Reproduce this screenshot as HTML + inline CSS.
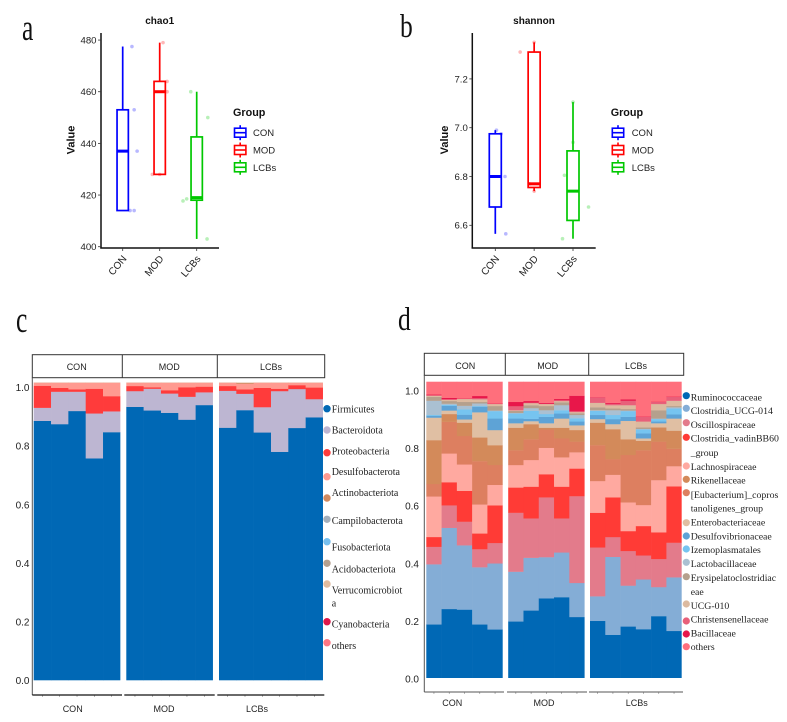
<!DOCTYPE html>
<html lang="en">
<head>
<meta charset="utf-8">
<title>Alpha diversity and taxonomic composition</title>
<style>
html,body{margin:0;padding:0;background:#fff;}
#figure{display:block;position:absolute;left:0;top:0;filter:blur(.35px);}
text{font-family:"Liberation Sans",sans-serif;}
.letter{font-family:"Liberation Serif",serif;font-size:30px;fill:#111;}
.title{font-size:10px;font-weight:bold;fill:#111;text-anchor:middle;}
.ylab{font-size:11px;font-weight:bold;fill:#111;text-anchor:middle;}
.gtitle{font-size:10.8px;font-weight:bold;fill:#111;}
.gtext{font-size:9.5px;fill:#222;}
.strip{font-size:9px;fill:#222;text-anchor:middle;}
.leg{font-family:"Liberation Serif",serif;font-size:10px;fill:#222;}
.legd{font-family:"Liberation Serif",serif;font-size:9.8px;fill:#222;}
</style>
</head>
<body>
<svg id="figure" width="787" height="722" viewBox="0 0 787 722" xmlns="http://www.w3.org/2000/svg">
<rect x="0" y="0" width="787" height="722" fill="#fff"/>

<text class="letter" transform="translate(22,40) scale(.85,1.25)">a</text>
<text class="letter" transform="translate(400,37) scale(.85,1.1)">b</text>
<text class="letter" transform="translate(16,332) scale(.85,1.25)">c</text>
<text class="letter" transform="translate(398,330) scale(.85,1.1)">d</text>

<g id="panel-a">
<text class="title" x="159.7" y="24">chao1</text>
<text class="ylab" transform="translate(74.5,140) rotate(-90)">Value</text>
<text class="gtitle" x="233" y="116">Group</text>
<text class="gtext" x="253" y="136">CON</text>
<text class="gtext" x="253" y="153.5">MOD</text>
<text class="gtext" x="253" y="171">LCBs</text>
</g>

<g id="panel-b">
<text class="title" x="534" y="24">shannon</text>
<text class="ylab" transform="translate(448,140) rotate(-90)">Value</text>
<text class="gtitle" x="610.7" y="116">Group</text>
<text class="gtext" x="631.7" y="136">CON</text>
<text class="gtext" x="631.7" y="153.5">MOD</text>
<text class="gtext" x="631.7" y="171">LCBs</text>
</g>

<g id="panel-c">
<text class="strip" x="76.7" y="370">CON</text>
<text class="strip" x="169.3" y="370">MOD</text>
<text class="strip" x="271" y="370">LCBs</text>
<text class="strip" x="72.7" y="712">CON</text>
<text class="strip" x="164" y="712">MOD</text>
<text class="strip" x="257" y="712">LCBs</text>
</g>

<g id="panel-d">
<text class="strip" x="465.3" y="369">CON</text>
<text class="strip" x="547.7" y="369">MOD</text>
<text class="strip" x="636" y="369">LCBs</text>
<text class="strip" x="452.3" y="706">CON</text>
<text class="strip" x="544" y="706">MOD</text>
<text class="strip" x="636.7" y="706">LCBs</text>
</g>

<g id="legend-c">
<circle cx="327" cy="408.7" r="3.7" fill="#0068b5"/>
<text class="leg" x="331.7" y="412.3">Firmicutes</text>
<circle cx="327" cy="430" r="3.7" fill="#bdb6d2"/>
<text class="leg" x="331.7" y="433.3">Bacteroidota</text>
<circle cx="327" cy="452.7" r="3.7" fill="#ff3b3b"/>
<text class="leg" x="331.7" y="454.3">Proteobacteria</text>
<circle cx="327" cy="476.7" r="3.7" fill="#ff9a90"/>
<text class="leg" x="331.7" y="475">Desulfobacterota</text>
<circle cx="327" cy="498" r="3.7" fill="#d08a60"/>
<text class="leg" x="331.7" y="496">Actinobacteriota</text>
<circle cx="327" cy="519.3" r="3.7" fill="#a5b0bc"/>
<text class="leg" x="331.7" y="524">Campilobacterota</text>
<circle cx="327" cy="541.7" r="3.7" fill="#78c0ee"/>
<text class="leg" x="331.7" y="550.6">Fusobacteriota</text>
<circle cx="327" cy="563.3" r="3.7" fill="#b5a190"/>
<text class="leg" x="331.7" y="572.3">Acidobacteriota</text>
<circle cx="327" cy="584" r="3.7" fill="#e0bca0"/>
<text class="leg" x="331.7" y="593.3"><tspan x="331.7">Verrucomicrobiot</tspan><tspan x="331.7" dy="13">a</tspan></text>
<circle cx="327" cy="621.7" r="3.7" fill="#e0184a"/>
<text class="leg" x="331.7" y="627.3">Cyanobacteria</text>
<circle cx="327" cy="642.7" r="3.7" fill="#ff7784"/>
<text class="leg" x="331.7" y="649">others</text>
</g>

<g id="legend-d">
<circle cx="686.3" cy="395.7" r="3.6" fill="#0068b5"/>
<text class="legd" x="690.7" y="400.6">Ruminococcaceae</text>
<circle cx="686.3" cy="408.3" r="3.6" fill="#84add6"/>
<text class="legd" x="690.7" y="414">Clostridia_UCG-014</text>
<circle cx="686.3" cy="422.7" r="3.6" fill="#e37b8b"/>
<text class="legd" x="690.7" y="428">Oscillospiraceae</text>
<circle cx="686.3" cy="437.3" r="3.6" fill="#ff3b36"/>
<text class="legd" x="690.7" y="441.6"><tspan x="690.7">Clostridia_vadinBB60</tspan><tspan x="690.7" dy="14.4">_group</tspan></text>
<circle cx="686.3" cy="466" r="3.6" fill="#ffa9a0"/>
<text class="legd" x="690.7" y="470">Lachnospiraceae</text>
<circle cx="686.3" cy="479.3" r="3.6" fill="#d38a5a"/>
<text class="legd" x="690.7" y="483.3">Rikenellaceae</text>
<circle cx="686.3" cy="492.7" r="3.6" fill="#dd7f60"/>
<text class="legd" x="690.7" y="498"><tspan x="690.7">[Eubacterium]_copros</tspan><tspan x="690.7" dy="13.6">tanoligenes_group</tspan></text>
<circle cx="686.3" cy="522.7" r="3.6" fill="#e0bfa3"/>
<text class="legd" x="690.7" y="525.6">Enterobacteriaceae</text>
<circle cx="686.3" cy="536" r="3.6" fill="#5ea3d6"/>
<text class="legd" x="690.7" y="539.3">Desulfovibrionaceae</text>
<circle cx="686.3" cy="549" r="3.6" fill="#76c4f0"/>
<text class="legd" x="690.7" y="553">Izemoplasmatales</text>
<circle cx="686.3" cy="562.3" r="3.6" fill="#aac0d2"/>
<text class="legd" x="690.7" y="567">Lactobacillaceae</text>
<circle cx="686.3" cy="576.7" r="3.6" fill="#b5a08d"/>
<text class="legd" x="690.7" y="581"><tspan x="690.7">Erysipelatoclostridiac</tspan><tspan x="690.7" dy="14">eae</tspan></text>
<circle cx="686.3" cy="604" r="3.6" fill="#dcbaa0"/>
<text class="legd" x="690.7" y="609">UCG-010</text>
<circle cx="686.3" cy="621" r="3.6" fill="#e8607a"/>
<text class="legd" x="690.7" y="622.6">Christensenellaceae</text>
<circle cx="686.3" cy="634" r="3.6" fill="#e8174a"/>
<text class="legd" x="690.7" y="636.6">Bacillaceae</text>
<circle cx="686.3" cy="646.7" r="3.6" fill="#ff6f7c"/>
<text class="legd" x="690.7" y="650">others</text>
</g>
</svg>

<script>
// ---------- Boxplot data ----------
const groupNames = ['CON', 'MOD', 'LCBs'];
const groupColors = ['#0000ff', '#ff0000', '#00c800'];

const chaoTicks = [400, 420, 440, 460, 480];
const chaoHigh = [477.5, 479, 460];
const chaoQ3 = [453, 464, 442.5];
const chaoMedian = [437, 460, 419];
const chaoQ1 = [414, 428, 418];
const chaoLow = [414, 428, 403];
const chaoPointValues = [
  [477.5, 453, 437, 414, 414],
  [479, 464, 460, 428, 428],
  [460, 450, 418.5, 417.7, 403]
];
const chaoPointJitter = [
  [0.25, 0.31, 0.39, 0.2, 0.31],
  [0.09, 0.2, 0.2, -0.2, 0],
  [-0.16, 0.3, -0.27, -0.37, 0.28]
];

const shannonTicks = [6.6, 6.8, 7.0, 7.2];
const shannonHigh = [6.99, 7.35, 7.105];
const shannonQ3 = [6.975, 7.31, 6.905];
const shannonMedian = [6.8, 6.77, 6.74];
const shannonQ1 = [6.675, 6.755, 6.62];
const shannonLow = [6.565, 6.74, 6.545];
const shannonPointValues = [
  [6.99, 6.975, 6.8, 6.565],
  [7.35, 7.31, 6.77, 6.74],
  [7.105, 6.94, 6.805, 6.675, 6.545]
];
const shannonPointJitter = [
  [0.03, 0.15, 0.25, 0.27],
  [0, -0.36, -0.12, 0],
  [0, 0, -0.22, 0.4, -0.27]
];

// ---------- Stacked bar data: cumulative percent at the top of each taxon, 16 samples ----------
const facetSampleCounts = [5, 5, 6];
const stackTicks = [0, 0.2, 0.4, 0.6, 0.8, 1];

const firmicutesTop = [87.2,86.1,90.5,74.6,83.4, 91.9,90.7,89.9,87.6,92.5, 84.9,90.8,83.3,76.8,84.8,88.4];
const bacteroidotaTop = [91.6,97.0,97.0,89.7,90.4, 97.2,98.0,96.4,95.3,96.8, 97.3,96.3,91.8,97.2,97.9,94.5];
const proteobacteriaTop = [99.0,98.3,97.8,98.0,95.5, 98.9,98.5,97.5,98.5,98.7, 98.9,97.8,98.3,98.0,99.2,98.4];
const desulfobacterotaTop = [100,100,100,100,100, 100,100,100,100,100, 100,99.7,100,100,100,100];
const actinobacteriotaTop = [100,100,100,100,100, 100,100,100,100,100, 100,100,100,100,100,100];

const ruminococcaceaeTop = [18.1,23.3,23.1,18.1,16.4, 19.1,22.8,26.9,27.3,20.6, 19.3,14.6,17.4,16.5,20.9,15.9];
const clostridiaUcgTop = [38.4,50.7,44.8,37.4,38.7, 35.9,40.6,40.8,42.4,32.1, 27.6,40.9,31.2,33.3,30.7,34.0];
const oscillospiraceaeTop = [44.3,58.3,52.8,43.5,45.6, 55.8,53.9,61.0,53.9,61.4, 44.1,47.6,42.9,41.4,40.2,45.7];
const vadinTop = [47.6,66.1,63.2,48.8,58.3, 64.3,64.6,68.8,64.6,70.7, 55.8,61.0,49.6,51.3,49.2,64.7];
const lachnospiraceaeTop = [61.3,75.8,72.1,58.6,65.2, 71.9,73.6,77.7,74.5,76.2, 66.5,68.6,59.3,58.4,66.8,71.5];
const eubacteriumTop = [65.5,86.5,81.7,73.2,71.9, 76.9,80.6,83.9,80.9,79.8, 78.6,73.9,75.3,76.9,79.8,77.4];
const rikenellaceaeTop = [80.3,89.1,86.2,81.2,78.6, 84.5,85.7,84.5,84.5,83.7, 86.2,84.0,80.6,80.1,84.6,83.5];
const enterobacteriaceaeTop = [87.9,90.3,87.3,89.7,83.7, 86.0,86.7,86.0,87.6,85.3, 87.4,85.7,86.8,80.9,86.0,87.6];
const desulfovibrionaceaeTop = [88.5,91.9,88.9,91.6,87.6, 87.6,87.5,88.2,89.3,86.6, 88.8,87.4,88.2,82.6,86.6,89.0];
const izemoplasmatalesTop = [88.8,92.2,90.7,91.8,90.1, 89.3,90.2,89.1,90.4,87.7, 90.2,88.8,90.1,83.9,87.4,91.0];
const lactobacillaceaeTop = [93.6,92.6,91.9,92.7,90.3, 89.5,91.1,90.4,92.1,88.8, 90.4,90.4,90.3,84.1,87.6,91.4];
const erysipelatoTop = [94.9,93.5,93.2,93.2,91.8, 90.2,92.1,91.8,93.1,89.4, 91.4,91.0,90.8,84.6,90.4,91.8];
const ucg010Top = [95.3,93.9,94.2,94.1,92.5, 90.4,92.8,92.5,93.5,89.8, 92.9,92.1,92.1,86.6,92.5,93.6];
const christensenellaceaeTop = [95.5,94.2,94.3,94.5,92.6, 91.8,93.0,92.6,93.8,90.1, 94.7,92.6,93.6,88.2,93.2,94.9];
const bacillaceaeTop = [95.7,94.6,94.4,95.2,92.7, 93.2,93.5,92.9,94.2,95.3, 94.8,92.9,94.1,88.3,93.3,95.0];
const familyOthersTop = [100,100,100,100,100, 100,100,100,100,100, 100,100,100,100,100,100];

const SVGNS = 'http://www.w3.org/2000/svg';
function mk(parent, tag, attrs, txt) {
  const el = document.createElementNS(SVGNS, tag);
  for (const k in attrs) el.setAttribute(k, attrs[k]);
  if (txt !== undefined) el.textContent = txt;
  parent.appendChild(el);
  return el;
}
function line(parent, x1, y1, x2, y2, stroke, w) {
  return mk(parent, 'line', {x1: x1, y1: y1, x2: x2, y2: y2, stroke: stroke, 'stroke-width': w});
}

function drawBoxplot(root, prefix, c) {
  const sx = i => c.catX0 + i * c.catStep;
  const sy = v => c.yRef - (v - c.vRef) * c.yUnit;

  const yAxis = line(root, c.axisX, 33, c.axisX, 248.5, '#111', 1.5);
  
  
  const xAxis = line(root, c.axisX - 0.7, 248, c.axisEnd, 248, '#111', 1.5);
  
  

  c.ticks.forEach(function (t) {
    const tick = line(root, c.axisX - 3, sy(t), c.axisX, sy(t), '#333', 0.8);
    
    
    const label = mk(root, 'text', {x: c.axisX - 4.5, y: sy(t) + 3.4, 'text-anchor': 'end', 'font-size': 9.6, fill: '#222'}, c.fmt(t));
    
    
  });

  groupNames.forEach(function (name, i) {
    const x = sx(i);
    const color = groupColors[i];
    const hw = c.boxW / 2;

    const xTick = line(root, x, 248, x, 251, '#333', 0.8);
    
    
    const xLabel = mk(root, 'text', {transform: 'translate(' + (x + 4.5) + ',259) rotate(-50)', 'text-anchor': 'end', 'font-size': 10, fill: '#222'}, name);
    
    

    c.pointValues[i].forEach(function (v, j) {
      const dot = mk(root, 'circle', {cx: x + c.pointJitter[i][j] * c.catStep, cy: sy(v), r: 1.8, fill: color, 'fill-opacity': 0.28});
      
      
    });

    const upper = line(root, x, sy(c.high[i]), x, sy(c.q3[i]), color, 1.7);
    
    
    const lower = line(root, x, sy(c.q1[i]), x, sy(c.low[i]), color, 1.7);
    
    
    const box = mk(root, 'rect', {x: x - hw, y: sy(c.q3[i]), width: c.boxW, height: sy(c.q1[i]) - sy(c.q3[i]), fill: 'none', stroke: color, 'stroke-width': 1.7});
    
    
    const med = line(root, x - hw, sy(c.median[i]), x + hw, sy(c.median[i]), color, 3);
    
    

    const ky = 132.7 + i * 17.3;
    const keyStem = line(root, c.keyX, ky - 7.5, c.keyX, ky + 7.5, color, 1.6);
    
    
    const keyBox = mk(root, 'rect', {x: c.keyX - 5.7, y: ky - 4.5, width: 11.4, height: 9, fill: '#fff', stroke: color, 'stroke-width': 1.6});
    
    
    const keyMed = line(root, c.keyX - 5.7, ky, c.keyX + 5.7, ky, color, 1.6);
    
    
  });
}

function drawStack(root, prefix, layers, c) {
  const sy = p => c.barZero - p * c.barUnit;
  const ly = v => c.labelZero - v * c.labelUnit;
  let sample = 0;
  facetSampleCounts.forEach(function (n, f) {
    for (let i = 0; i < n; i++) {
      const x = c.facetStarts[f] + i * c.barW;
      let prev = 0;
      layers.forEach(function (layer) {
        const top = layer.tops[sample];
        const seg = mk(root, 'rect', {x: x, y: sy(top), width: c.barW + (i < n - 1 ? 0.3 : 0), height: Math.max(0, sy(prev) - sy(top) + (prev > 0 ? 0.2 : 0)), fill: layer.color});
        
        
        prev = top;
      });
      const tick = line(root, x + c.barW / 2, c.axisY, x + c.barW / 2, c.axisY + 2, '#888', 0.6);
      
      
      sample++;
    }
  });

  const strip = mk(root, 'rect', {x: c.stripX0, y: c.stripY0, width: c.stripX1 - c.stripX0, height: c.stripY1 - c.stripY0, fill: 'none', stroke: '#333', 'stroke-width': 1});
  
  
  c.dividers.forEach(function (dx) {
    const d = line(root, dx, c.stripY0, dx, c.stripY1, '#333', 1);
    
    
  });

  const yAxis = line(root, c.stripX0, c.stripY1, c.stripX0, c.axisY, '#555', 1);
  
  
  c.axisSegments.forEach(function (s) {
    const a = line(root, s[0], c.axisY, s[1], c.axisY, c.axisColor, c.axisWidth);
    
    
  });

  stackTicks.forEach(function (t) {
    const label = mk(root, 'text', {x: c.labelX, y: ly(t) + 3.6, 'text-anchor': 'end', 'font-size': 10, fill: '#222'}, t.toFixed(1));
    
    
  });
}

drawBoxplot(document.getElementById('panel-a'), 'chao1', {
  axisX: 101, axisEnd: 219, catX0: 122.7, catStep: 37, boxW: 11.3, keyX: 240.2,
  yRef: 246.7, vRef: 400, yUnit: 2.583, ticks: chaoTicks, fmt: t => String(t),
  high: chaoHigh, q3: chaoQ3, median: chaoMedian, q1: chaoQ1, low: chaoLow,
  pointValues: chaoPointValues, pointJitter: chaoPointJitter
});
drawBoxplot(document.getElementById('panel-b'), 'shannon', {
  axisX: 472.3, axisEnd: 595.7, catX0: 495.3, catStep: 38.85, boxW: 12, keyX: 618,
  yRef: 127.7, vRef: 7, yUnit: 244, ticks: shannonTicks, fmt: t => t.toFixed(1),
  high: shannonHigh, q3: shannonQ3, median: shannonMedian, q1: shannonQ1, low: shannonLow,
  pointValues: shannonPointValues, pointJitter: shannonPointJitter
});

drawStack(document.getElementById('panel-c'), 'phylum', [
  {name: 'firmicutes', color: '#0068b5', tops: firmicutesTop},
  {name: 'bacteroidota', color: '#bdb6d2', tops: bacteroidotaTop},
  {name: 'proteobacteria', color: '#ff3b3b', tops: proteobacteriaTop},
  {name: 'desulfobacterota', color: '#ff9a90', tops: desulfobacterotaTop},
  {name: 'actinobacteriota', color: '#d08a60', tops: actinobacteriotaTop}
], {
  facetStarts: [33.7, 126.3, 219], barW: 17.33, barZero: 680.3, barUnit: 2.976,
  labelZero: 680.5, labelUnit: 293, labelX: 29.5,
  stripX0: 32.3, stripX1: 324.7, stripY0: 354.7, stripY1: 377.7, dividers: [122.3, 217.3],
  axisY: 695, axisColor: '#111', axisWidth: 1.3, axisSegments: [[32.3, 122], [124.3, 214.7], [217.3, 324.3]]
});

drawStack(document.getElementById('panel-d'), 'family', [
  {name: 'ruminococcaceae', color: '#0068b5', tops: ruminococcaceaeTop},
  {name: 'clostridia-ucg-014', color: '#84add6', tops: clostridiaUcgTop},
  {name: 'oscillospiraceae', color: '#e37b8b', tops: oscillospiraceaeTop},
  {name: 'clostridia-vadinbb60', color: '#ff3b36', tops: vadinTop},
  {name: 'lachnospiraceae', color: '#ffa9a0', tops: lachnospiraceaeTop},
  {name: 'eubacterium', color: '#dd7f60', tops: eubacteriumTop},
  {name: 'rikenellaceae', color: '#d38a5a', tops: rikenellaceaeTop},
  {name: 'enterobacteriaceae', color: '#e0bfa3', tops: enterobacteriaceaeTop},
  {name: 'desulfovibrionaceae', color: '#5ea3d6', tops: desulfovibrionaceaeTop},
  {name: 'izemoplasmatales', color: '#76c4f0', tops: izemoplasmatalesTop},
  {name: 'lactobacillaceae', color: '#aac0d2', tops: lactobacillaceaeTop},
  {name: 'erysipelatoclostridiaceae', color: '#b5a08d', tops: erysipelatoTop},
  {name: 'ucg-010', color: '#dcbaa0', tops: ucg010Top},
  {name: 'christensenellaceae', color: '#e8607a', tops: christensenellaceaeTop},
  {name: 'bacillaceae', color: '#e8174a', tops: bacillaceaeTop},
  {name: 'others', color: '#ff6f7c', tops: familyOthersTop}
], {
  facetStarts: [426.3, 508.2, 590], barW: 15.28, barZero: 678, barUnit: 2.963,
  labelZero: 679, labelUnit: 288.3, labelX: 419,
  stripX0: 424.3, stripX1: 683.7, stripY0: 353.3, stripY1: 375.3, dividers: [505.3, 588.7],
  axisY: 692, axisColor: '#555', axisWidth: 1, axisSegments: [[424.3, 504], [507, 587], [589, 683]]
});
</script>
</body>
</html>
